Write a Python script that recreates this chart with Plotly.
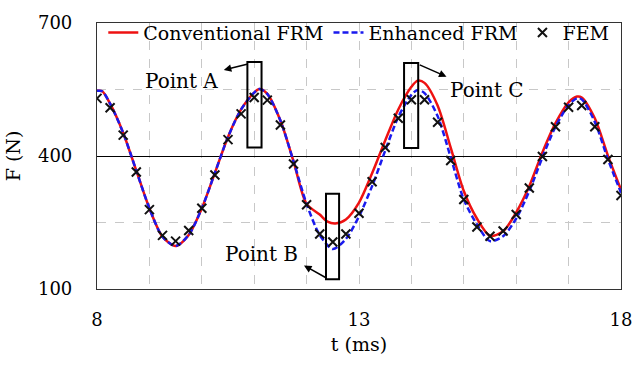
import plotly.graph_objects as go

# ---- data ----
t_conv = [8.0, 8.1, 8.25, 8.5, 8.75, 9.0, 9.25, 9.5, 9.75, 10.0, 10.25, 10.5, 10.75, 11.0, 11.1, 11.25,
          11.5, 11.75, 12.0, 12.25, 12.4, 12.55, 12.75, 13.0, 13.25, 13.5, 13.75, 14.0, 14.12, 14.25,
          14.5, 14.75, 15.0, 15.25, 15.5, 15.75, 16.0, 16.25, 16.5, 16.75, 17.0, 17.16, 17.25, 17.5,
          17.75, 18.0]
f_conv = [547, 546, 518, 452, 367, 282, 218, 197, 222, 282, 362, 443, 505, 543, 551, 540,
          480, 388, 292, 268, 252, 248, 257, 295, 361, 435, 505, 556, 570, 565,
          514, 419, 321, 259, 220, 230, 273, 332, 408, 474, 521, 534, 532, 485,
          401, 324]

t_enh = [8.0, 8.1, 8.25, 8.5, 8.75, 9.0, 9.25, 9.5, 9.75, 10.0, 10.25, 10.5, 10.75, 11.0, 11.1, 11.25,
         11.5, 11.75, 12.0, 12.25, 12.5, 12.75, 13.0, 13.25, 13.5, 13.75, 14.0, 14.12, 14.25,
         14.5, 14.75, 15.0, 15.25, 15.5, 15.75, 16.0, 16.25, 16.5, 16.75, 17.0, 17.16, 17.25, 17.5,
         17.75, 18.0]
f_enh = [547, 546, 518, 452, 367, 282, 218, 197, 222, 282, 362, 443, 505, 543, 551, 540,
         480, 388, 292, 222, 190, 213, 264, 332, 412, 488, 538, 549, 542,
         490, 397, 302, 246, 208, 219, 259, 321, 397, 466, 515, 530, 528, 477,
         393, 317]

t_fem = [8.0, 8.25, 8.5, 8.75, 9.0, 9.25, 9.5, 9.75, 10.0, 10.25, 10.5, 10.75, 11.0, 11.25, 11.5,
         11.75, 12.0, 12.25, 12.5, 12.75, 13.0, 13.25, 13.5, 13.75, 14.0, 14.25, 14.5, 14.75, 15.0,
         15.25, 15.5, 15.75, 16.0, 16.25, 16.5, 16.75, 17.0, 17.25, 17.5, 17.75, 18.0]
f_fem = [530, 509, 447, 364, 279, 221, 208, 232, 282, 357, 437, 495, 532, 526, 470,
         382, 290, 224, 206, 224, 271, 342, 419, 485, 527, 527, 476, 390, 302,
         240, 219, 231, 268, 328, 399, 466, 510, 514, 466, 392, 311]

x_ticks = [8, 13, 18]
y_ticks = [100, 400, 700]

FONT = "DejaVu Serif"
RED = "#ee1111"
BLUE = "#1a1aee"

fig = go.Figure()
fig.add_trace(go.Scatter(x=t_conv, y=f_conv, mode="lines", name="Conventional FRM",
                         line=dict(color=RED, width=2.5, shape="spline", smoothing=0.8)))
fig.add_trace(go.Scatter(x=t_enh, y=f_enh, mode="lines", name="Enhanced FRM",
                         line=dict(color=BLUE, width=2.5, dash="6px,3px", shape="spline", smoothing=0.8)))
fig.add_trace(go.Scatter(x=t_fem, y=f_fem, mode="markers", name="FEM",
                         marker=dict(symbol="x-thin", size=9, line=dict(color="#111111", width=2))))

boxes = [(10.87, 11.14, 419, 612), (12.37, 12.62, 122, 315), (13.86, 14.13, 418, 610)]
for x0, x1, y0, y1 in boxes:
    fig.add_shape(type="rect", xref="x", yref="y", x0=x0, x1=x1, y0=y0, y1=y1,
                  line=dict(color="black", width=2), fillcolor="rgba(0,0,0,0)")

labels = [("Point A", 9.61, 570, 10.42, 594, 10.89, 608),
          ("Point B", 11.14, 179, 11.95, 153, 12.39, 124),
          ("Point C", 15.45, 549, 14.67, 579, 14.13, 607)]
for txt, tx, ty, hx, hy, sx, sy in labels:
    fig.add_annotation(x=tx, y=ty, text=txt, showarrow=False,
                       font=dict(family=FONT, size=20, color="black"))
    fig.add_annotation(x=hx, y=hy, ax=sx, ay=sy, xref="x", yref="y", axref="x", ayref="y",
                       text="", showarrow=True, arrowhead=2, arrowsize=1, arrowwidth=1.5,
                       arrowcolor="black")

fig.update_layout(
    width=644, height=367,
    margin=dict(l=97, r=13, t=15, b=78),
    paper_bgcolor="white", plot_bgcolor="white",
    font=dict(family=FONT, size=18, color="black"),
    showlegend=True,
    legend=dict(orientation="h", x=0.012, y=1.035, xanchor="left", yanchor="top",
                bgcolor="rgba(0,0,0,0)", font=dict(family=FONT, size=19, color="black"),
                itemwidth=30, tracegroupgap=0),
    xaxis=dict(range=[8, 18], tickvals=x_ticks, ticks="", showline=True, mirror=True,
               linecolor="#333333", linewidth=1.2, showgrid=True, gridcolor="#c8c8c8",
               griddash="dash", gridwidth=1, zeroline=False, layer="above traces",
               minor=dict(dtick=1, showgrid=True, gridcolor="#c8c8c8", griddash="dash", gridwidth=1),
               title=dict(text="t (ms)", font=dict(family=FONT, size=19), standoff=8),
               tickfont=dict(family=FONT, size=18), ticklabelstandoff=14),
    yaxis=dict(range=[100, 700], tickvals=y_ticks, ticks="", showline=True, mirror=True,
               linecolor="#333333", linewidth=1.2, showgrid=True, gridcolor="black", gridwidth=1,
               zeroline=False,
               minor=dict(tickvals=[250, 550], showgrid=True, gridcolor="#c8c8c8", griddash="dash", gridwidth=1),
               title=dict(text="F (N)", font=dict(family=FONT, size=19), standoff=12),
               tickfont=dict(family=FONT, size=18), ticklabelstandoff=20),
)

fig.write_html("out.html")
